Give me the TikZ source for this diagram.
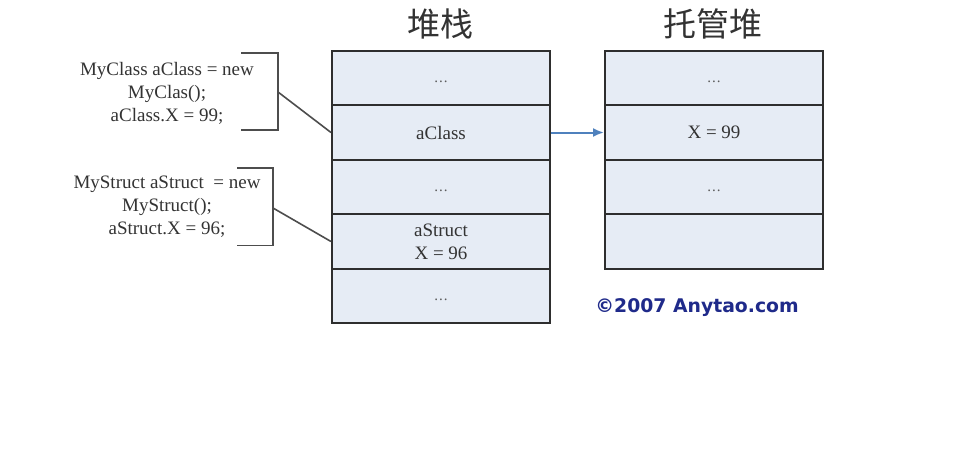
\documentclass[tikz,border=0pt]{standalone}
\usepackage{fontspec}
\setmainfont{Liberation Serif}
\newfontfamily\cjk{Noto Sans CJK SC}
\newfontfamily\dvs{DejaVu Sans}
\usetikzlibrary{arrows.meta}
\definecolor{cellfill}{HTML}{E6ECF5}
\definecolor{linegray}{HTML}{2E2E2E}
\definecolor{textgray}{HTML}{333333}
\definecolor{arrowblue}{HTML}{4F81BD}
\definecolor{copyblue}{HTML}{1F2A8A}
\newcommand{\celldots}{{\fontsize{15}{15}\selectfont\color{textgray!80}\vphantom{A}.\kern1pt.\kern1pt.}}
\tikzset{
  cell/.style={draw=linegray, line width=2pt, fill=cellfill, minimum width=218pt, minimum height=54.5pt, inner sep=0pt, text=textgray, font=\fontsize{19}{23}\selectfont, align=center},
  codetext/.style={text=textgray, font=\fontsize{19}{23}\selectfont, align=center, inner sep=0pt},
  bracket/.style={draw=linegray!85, line width=1.6pt},
  title/.style={text=textgray, font=\cjk\fontsize{33}{38}\selectfont, inner sep=0pt}
}
\begin{document}
\begin{tikzpicture}[x=1pt,y=-1pt]
\useasboundingbox (0,0) rectangle (955,450);
\fill[white] (0,0) rectangle (955,450);
% titles
\node[title] (t1) at (440,24) {堆栈};
\node[title] (t2) at (713,24) {托管堆};
% stack
\node[cell] (s1) at (441,78) {\celldots};
\node[cell] (s2) at (441,132.5) {aClass};
\node[cell] (s3) at (441,187) {\celldots};
\node[cell] (s4) at (441,241.5) {aStruct\\X = 96};
\node[cell] (s5) at (441,296) {\celldots};
% heap
\node[cell] (h1) at (714,78) {\celldots};
\node[cell] (h2) at (714,132.5) {X = 99};
\node[cell] (h3) at (714,187) {\celldots};
\node[cell] (h4) at (714,241.5) {};
% arrow
\draw[arrowblue, line width=2pt, -{Latex[length=11pt,width=9pt]}] (s2.east) -- (h2.west);
% code texts
\node[codetext] (c1) at (167,93) {MyClass aClass = new\\MyClas();\\aClass.X = 99;};
\node[codetext] (c2) at (167,207) {MyStruct aStruct \ = new\\MyStruct();\\aStruct.X = 96;};
% brackets
\coordinate (b1t) at (241,53);
\coordinate (b1r) at (278,92);
\coordinate (b1b) at (241,130);
\draw[bracket] (b1t) -| (b1r) |- (b1b);
\draw[bracket] (b1r) -- (s2.west);
\coordinate (b2t) at (237,168);
\coordinate (b2r) at (273,208);
\coordinate (b2b) at (237,245.5);
\draw[bracket] (b2t) -| (b2r) |- (b2b);
\draw[bracket] (b2r) -- (s4.west);
% copyright
\node[text=copyblue, font=\dvs\bfseries\fontsize{18.8}{20}\selectfont, inner sep=0pt] (cp) at (697,308) {©2007 Anytao.com};
\end{tikzpicture}
\end{document}
